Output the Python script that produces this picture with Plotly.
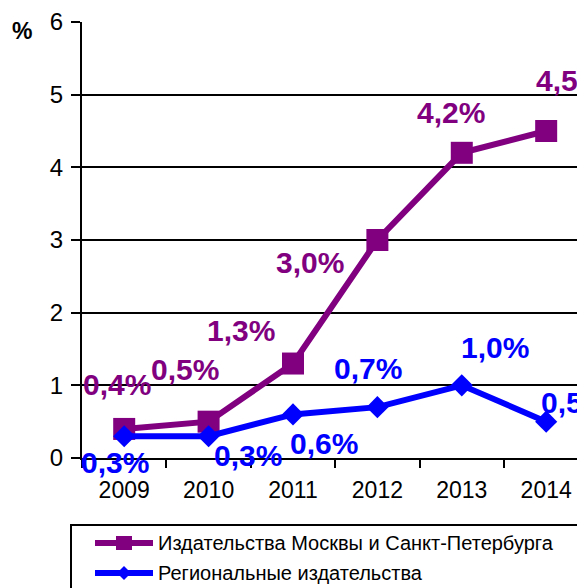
import plotly.graph_objects as go

years = ["2009", "2010", "2011", "2012", "2013", "2014"]
moscow_spb = [0.4, 0.5, 1.3, 3.0, 4.2, 4.5]
regional = [0.3, 0.3, 0.6, 0.7, 1.0, 0.5]
series_names = ["Издательства Москвы и Санкт-Петербурга", "Региональные издательства"]
y_ticks = [0, 1, 2, 3, 4, 5, 6]

PURPLE = "#800080"
BLUE = "#0000FF"
FONT = "Liberation Sans, Arial, sans-serif"

# label offsets in pixels (style only)
purple_shift = [(-7, 44), (-24, 52), (-52, 33), (-67, -22), (-11, 40), (24, 51)]
blue_shift = [(-9, -26), (39, -19), (31, -29), (-9, 39), (33, 38), (29, 19)]


def fmt(v):
    return f"{v:.1f}".replace(".", ",") + "%"


fig = go.Figure()
fig.add_trace(go.Scatter(
    x=years, y=moscow_spb, mode="lines+markers", name=series_names[0],
    line=dict(color=PURPLE, width=6),
    marker=dict(symbol="square", size=22, color=PURPLE),
    cliponaxis=False, showlegend=False))
fig.add_trace(go.Scatter(
    x=years, y=regional, mode="lines+markers", name=series_names[1],
    line=dict(color=BLUE, width=6),
    marker=dict(symbol="diamond", size=17, color=BLUE),
    cliponaxis=False, showlegend=False))

annotations = []
for i, (v, (dx, dy)) in enumerate(zip(moscow_spb, purple_shift)):
    annotations.append(dict(x=i, y=v, xref="x", yref="y", text=fmt(v), showarrow=False,
                            xshift=dx, yshift=dy,
                            font=dict(family=FONT, size=30, color=PURPLE, weight="bold")))
for i, (v, (dx, dy)) in enumerate(zip(regional, blue_shift)):
    annotations.append(dict(x=i, y=v, xref="x", yref="y", text=fmt(v), showarrow=False,
                            xshift=dx, yshift=dy,
                            font=dict(family=FONT, size=30, color=BLUE, weight="bold")))

# plot area in window pixels: left 82, top 22, bottom 458 (page body adds 8px offset)
W, H = 503.0, 436.0
def px(xp):
    return (xp - 82) / W
def py(yp):
    return (458 - yp) / H

# "%" axis label
annotations.append(dict(x=px(22), y=py(31), xref="paper", yref="paper", text="%",
                        showarrow=False, xanchor="center", yanchor="middle",
                        font=dict(family=FONT, size=23, color="black", weight="bold")))

leg_rows = [(543, PURPLE, "square"), (573, BLUE, "diamond")]
shapes = [dict(type="rect", xref="paper", yref="paper", x0=px(71), x1=px(620), y0=py(525), y1=py(620),
               line=dict(color="black", width=2), fillcolor="white", layer="below")]
for (yy, col, sym), name in zip(leg_rows, series_names):
    shapes.append(dict(type="line", xref="paper", yref="paper", x0=px(95), x1=px(153), y0=py(yy), y1=py(yy),
                       line=dict(color=col, width=6)))
    if sym == "square":
        shapes.append(dict(type="rect", xref="paper", yref="paper", xsizemode="pixel", ysizemode="pixel",
                           xanchor=px(124), yanchor=py(yy), x0=-8, x1=8, y0=-7, y1=7,
                           fillcolor=col, line=dict(width=0)))
    else:
        shapes.append(dict(type="path", xref="paper", yref="paper", xsizemode="pixel", ysizemode="pixel",
                           xanchor=px(124), yanchor=py(yy), path="M-7,0 L0,7 L7,0 L0,-7 Z",
                           fillcolor=col, line=dict(width=0)))
    annotations.append(dict(x=px(156), y=py(yy), xref="paper", yref="paper", text=name,
                            showarrow=False, xanchor="left", yanchor="middle",
                            font=dict(family=FONT, size=20, color="black")))

fig.update_layout(
    width=577, height=580,
    margin=dict(l=74, r=0, t=14, b=130, autoexpand=False),
    paper_bgcolor="white", plot_bgcolor="white",
    font=dict(family=FONT, color="black"),
    annotations=annotations, shapes=shapes,
    showlegend=False,
)
fig.update_xaxes(type="category", categoryorder="array", categoryarray=years,
                 range=[-0.5, 5.46], tickson="boundaries", ticks="outside", ticklen=8,
                 tickwidth=2, tickcolor="black", showline=True, linecolor="black", linewidth=2,
                 showgrid=False, ticklabelstandoff=10,
                 tickfont=dict(size=23, family=FONT, color="black"))
fig.update_yaxes(range=[0, 6], tickvals=y_ticks, ticks="outside", ticklen=9, tickwidth=2,
                 tickcolor="black", showline=True, linecolor="black", linewidth=2,
                 showgrid=True, gridcolor="black", gridwidth=2, zeroline=False,
                 ticklabelstandoff=3,
                 tickfont=dict(size=24, family=FONT, color="black"))

fig.write_html("out.html")
